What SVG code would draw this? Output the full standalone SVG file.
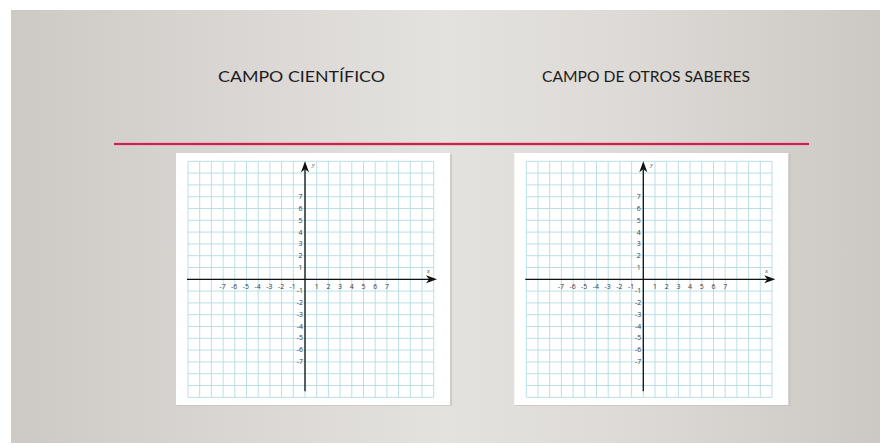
<svg xmlns="http://www.w3.org/2000/svg" xmlns:xlink="http://www.w3.org/1999/xlink" width="880" height="446" viewBox="0 0 880 446">
  <defs>
    <linearGradient id="bg" x1="0" y1="0" x2="1" y2="0">
      <stop offset="0" stop-color="#cdc9c4"/>
      <stop offset="0.3" stop-color="#dcd8d5"/>
      <stop offset="0.5" stop-color="#e3e2de"/>
      <stop offset="0.7" stop-color="#dedad7"/>
      <stop offset="1" stop-color="#ccc8c3"/>
    </linearGradient>
    <style>
      .title { font-family: Lato, "Open Sans", "Liberation Sans", sans-serif; font-size: 16px; fill: #1c1c1c; }
      .grid { stroke: #b3dbe2; stroke-width: 0.9; fill: none; }
      .axis { stroke: #111; stroke-width: 1.3; fill: none; }
      .tick { font-family: "Open Sans", "Liberation Sans", sans-serif; font-size: 7px; fill: #3a3a3a; }
      .tx { text-anchor: middle; }
      .ty { text-anchor: end; }
      .var { font-family: "Liberation Serif", serif; font-style: italic; font-size: 6px; fill: #444; }
    </style>
    <g id="plane">
      <rect x="-128" y="-125.3" width="275" height="252" fill="#b9b6b2" opacity="0.5"/>
      <rect x="-129" y="-126.3" width="274" height="252" fill="#ffffff"/>
      <path class="grid" d="M-117 -118V118M-105.3 -118V118M-93.6 -118V118M-81.9 -118V118M-70.2 -118V118M-58.5 -118V118M-46.8 -118V118M-35.1 -118V118M-23.4 -118V118M-11.7 -118V118M0 -118V118M11.7 -118V118M23.4 -118V118M35.1 -118V118M46.8 -118V118M58.5 -118V118M70.2 -118V118M81.9 -118V118M93.6 -118V118M105.3 -118V118M117 -118V118M128.7 -118V118M-117 -118H128.7M-117 -106.2H128.7M-117 -94.4H128.7M-117 -82.6H128.7M-117 -70.8H128.7M-117 -59H128.7M-117 -47.2H128.7M-117 -35.4H128.7M-117 -23.6H128.7M-117 -11.8H128.7M-117 0H128.7M-117 11.8H128.7M-117 23.6H128.7M-117 35.4H128.7M-117 47.2H128.7M-117 59H128.7M-117 70.8H128.7M-117 82.6H128.7M-117 94.4H128.7M-117 106.2H128.7M-117 118H128.7"/>
      <path class="axis" d="M-118 0H124M0 112V-110"/>
      <path d="M132 0L121 -4L124 0L121 4Z" fill="#111"/>
      <path d="M0 -118L-4 -107L0 -110L4 -107Z" fill="#111"/>
      <text class="var" x="7" y="-112">y</text>
      <text class="var" x="122" y="-6">x</text>
      <g class="tick tx">
        <text x="-82.5" y="10">-7</text>
        <text x="-70.8" y="10">-6</text>
        <text x="-59.1" y="10">-5</text>
        <text x="-47.4" y="10">-4</text>
        <text x="-35.7" y="10">-3</text>
        <text x="-24" y="10">-2</text>
        <text x="-12.3" y="10">-1</text>
        <text x="11.7" y="10">1</text>
        <text x="23.4" y="10">2</text>
        <text x="35.1" y="10">3</text>
        <text x="46.8" y="10">4</text>
        <text x="58.5" y="10">5</text>
        <text x="70.2" y="10">6</text>
        <text x="81.9" y="10">7</text>
      </g>
      <g class="tick ty">
        <text x="-2.5" y="-80.2">7</text>
        <text x="-2.5" y="-68.4">6</text>
        <text x="-2.5" y="-56.6">5</text>
        <text x="-2.5" y="-44.8">4</text>
        <text x="-2.5" y="-33">3</text>
        <text x="-2.5" y="-21.2">2</text>
        <text x="-2.5" y="-9.4">1</text>
        <text x="-2" y="14">-1</text>
        <text x="-2" y="25.8">-2</text>
        <text x="-2" y="37.6">-3</text>
        <text x="-2" y="49.4">-4</text>
        <text x="-2" y="61.2">-5</text>
        <text x="-2" y="73">-6</text>
        <text x="-2" y="84.8">-7</text>
      </g>
    </g>
  </defs>
  <rect x="0" y="0" width="880" height="446" fill="#ffffff"/>
  <rect id="background" x="11" y="10" width="869" height="433" fill="url(#bg)"/>
  <g id="title-cientifico">
    <text class="title" x="218" y="81.5" textLength="167" lengthAdjust="spacingAndGlyphs">CAMPO CIENTÍFICO</text>
  </g>
  <g id="title-otros">
    <text class="title" x="542" y="81.5" textLength="208" lengthAdjust="spacingAndGlyphs">CAMPO DE OTROS SABERES</text>
  </g>
  <g id="divider">
    <line x1="114" y1="144" x2="809" y2="144" stroke="#e8aebb" stroke-width="3.5"/>
    <line x1="114" y1="144" x2="809" y2="144" stroke="#c0264f" stroke-width="1.8"/>
  </g>
  <g id="plane-cientifico" transform="translate(305 279.3)">
    <use xlink:href="#plane" href="#plane"/>
  </g>
  <g id="plane-otros" transform="translate(643.3 279.3)">
    <use xlink:href="#plane" href="#plane"/>
  </g>
  <g id="connectors"/>
</svg>
